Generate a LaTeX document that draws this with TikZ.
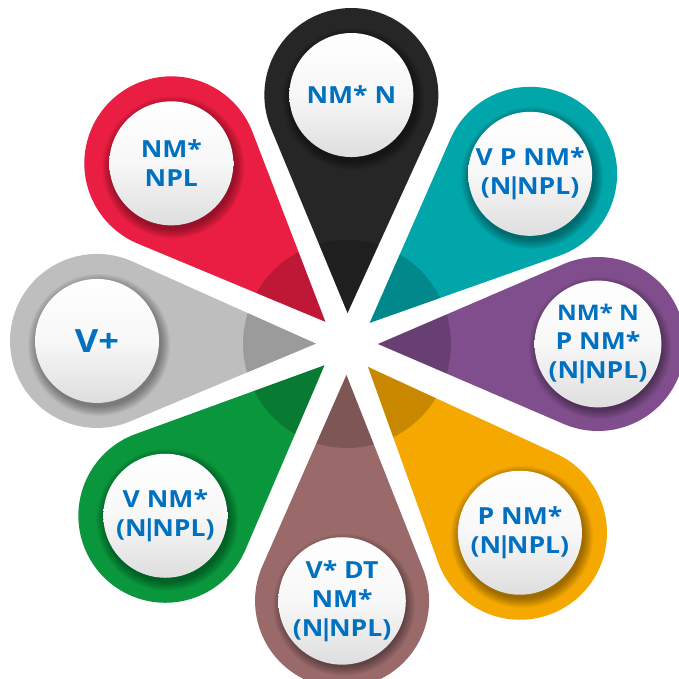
\documentclass[tikz,border=0pt]{standalone}
\usepackage{fontspec}
\setmainfont{Open Sans}[FakeStretch=1.13]
\definecolor{txtblue}{RGB}{0,112,192}
\definecolor{pblack}{RGB}{38,38,38}
\definecolor{pteal}{RGB}{0,166,170}
\definecolor{ppurple}{RGB}{128,78,140}
\definecolor{porange}{RGB}{245,168,0}
\definecolor{pbrown}{RGB}{154,106,106}
\definecolor{pgreen}{RGB}{10,150,60}
\definecolor{pgray}{RGB}{190,190,190}
\definecolor{pred}{RGB}{233,30,66}
\newcommand\ptip{31}
\newcommand\prad{87}
% tight vertical bar between words
\newcommand\vbar{\kern-0.19em|\kern-0.19em}
% #1 direction, #2 distance of the head, #3 colour, #4 node name, #5 label
\newcommand\petal[5]{%
  \pgfmathsetmacro\tang{180-acos(\prad/(#2-\ptip))}%
  \begin{scope}[rotate=#1]
    \fill[#3] (\ptip,0) -- ([shift={(#2,0)}]-\tang:\prad)
      arc[start angle=-\tang, end angle=\tang, radius=\prad] -- cycle;
    \begin{scope}
      \clip (\ptip,0) -- ([shift={(#2,0)}]-\tang:\prad)
        arc[start angle=-\tang, end angle=\tang, radius=\prad] -- cycle;
      \fill[black, opacity=.18] (0,0) circle[radius=104];
    \end{scope}
  \end{scope}
  \begin{scope}[shift={(#1:#2)}]
    \foreach \k in {0,...,9}
      \fill[black, opacity=.04] (2,-4) circle[radius=62+\k];
  \end{scope}
  \node[bubble] (#4) at (#1:#2) {#5};
}
\tikzset{
  bubble/.style={circle, minimum size=124pt, inner sep=0pt,
    top color=white, bottom color=black!13, middle color=white!97!black,
    text=txtblue, align=center,
    font=\bfseries\fontsize{23.5}{29}\selectfont}
}
\begin{document}
\begin{tikzpicture}[x=1pt, y=1pt]
  \useasboundingbox (-347,-335) rectangle (331,344);
  \fill[white] (-347,-335) rectangle (331,344);
  \petal{89}{249}{pblack}{top}{NM* N}
  \petal{42.9}{250}{pteal}{topright}{V P NM*\\(N\vbar NPL)}
  \petal{0}{251}{ppurple}{right}{\fontsize{21.5}{28}\selectfont NM* N\\P NM*\\(N\vbar NPL)}
  \petal{-47.5}{256}{porange}{bottomright}{P NM*\\(N\vbar NPL)}
  \petal{-91.1}{257}{pbrown}{bottom}{V* DT\\NM*\\(N\vbar NPL)}
  \petal{223.4}{250}{pgreen}{bottomleft}{V NM*\\(N\vbar NPL)}
  \petal{179.3}{250}{pgray}{left}{\fontsize{32}{36}\selectfont V+}
  \petal{134.2}{252}{pred}{topleft}{NM*\\NPL}
\end{tikzpicture}
\end{document}
